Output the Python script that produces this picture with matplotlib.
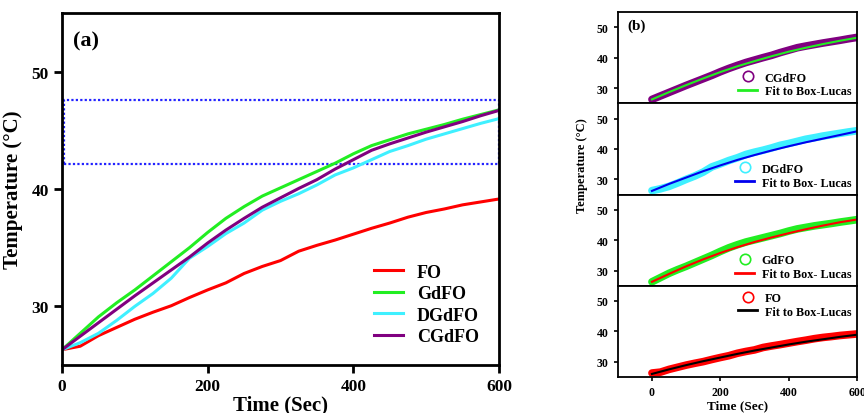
import numpy as np
import matplotlib
matplotlib.use("Agg")
import matplotlib.pyplot as plt
from matplotlib.lines import Line2D
from matplotlib.patches import Rectangle

plt.rcParams['font.family'] = ['Liberation Serif', 'DejaVu Serif']
plt.rcParams['font.weight'] = 'bold'

# ---- data ----
tijd = [0, 25, 50, 75, 100, 125, 150, 175, 200, 225, 250, 275, 300,
        325, 350, 375, 400, 425, 450, 475, 500, 525, 550, 575, 600]

fo = [26.3, 26.6, 27.5, 28.2, 28.9, 29.5, 30.05, 30.75, 31.4, 32.0, 32.8, 33.4, 33.9,
      34.7, 35.2, 35.65, 36.15, 36.65, 37.1, 37.6, 38.0, 38.3, 38.65, 38.9, 39.15]
gdfo = [26.3, 27.7, 29.1, 30.3, 31.4, 32.6, 33.8, 35.0, 36.3, 37.5, 38.5, 39.4, 40.1,
        40.8, 41.5, 42.2, 43.0, 43.7, 44.2, 44.7, 45.1, 45.5, 45.95, 46.35, 46.75]
dgdfo = [26.3, 26.9, 27.7, 28.8, 30.0, 31.1, 32.4, 34.1, 35.1, 36.2, 37.1, 38.2, 38.95,
         39.6, 40.35, 41.2, 41.8, 42.5, 43.2, 43.7, 44.25, 44.7, 45.15, 45.6, 46.0]
cgdfo = [26.3, 27.45, 28.6, 29.75, 30.9, 32.0, 33.1, 34.2, 35.4, 36.5, 37.5, 38.45, 39.25,
         40.05, 40.8, 41.7, 42.5, 43.3, 43.85, 44.35, 44.85, 45.3, 45.75, 46.25, 46.7]

# Box-Lucas fit curves (panel b)
tijd_fit = [0, 50, 100, 150, 200, 250, 300, 350, 400, 450, 500, 550, 600]
fit_fo = [26.0, 27.5, 28.9, 30.2, 31.4, 32.6, 33.7, 34.7, 35.7, 36.6, 37.4, 38.2, 38.9]
fit_gdfo = [26.3, 28.9, 31.4, 33.7, 35.8, 37.7, 39.4, 40.9, 42.3, 43.6, 44.8, 45.9, 46.8]
fit_dgdfo = [26.2, 28.5, 30.6, 32.7, 34.6, 36.4, 38.0, 39.5, 40.9, 42.2, 43.4, 44.6, 45.8]
fit_cgdfo = [26.3, 28.7, 31.0, 33.2, 35.3, 37.2, 38.9, 40.5, 42.0, 43.3, 44.5, 45.6, 46.6]

namen = ["FO", "GdFO", "DGdFO", "CGdFO"]
kleuren = ["#ff0000", "#22ee22", "#3ff0ff", "#800080"]

fig = plt.figure(figsize=(8.64, 4.14), dpi=100)

# ---- panel (a) ----
ax = fig.add_axes([0.0718, 0.116, 0.5057, 0.850])
reeksen = [fo, gdfo, dgdfo, cgdfo]
for naam, kleur, y in zip(namen, kleuren, reeksen):
    ax.plot(tijd, y, color=kleur, lw=2.2, label=naam)

# dotted box marking the 42-47.5 degC band
box = Rectangle((3, 42.1), 597, 5.5, fill=False, edgecolor="#2222ff",
                linestyle=(0, (1, 1)), lw=1.6, zorder=1)
ax.add_patch(box)

ax.set_xlim(0, 600)
ax.set_ylim(25, 55)
ax.set_xticks([0, 200, 400, 600])
ax.set_yticks([30, 40, 50])
ax.tick_params(direction='out', length=6, width=2, labelsize=12.5)
plt.setp(ax.get_xticklabels() + ax.get_yticklabels(), fontweight='bold')
for s in ax.spines.values():
    s.set_linewidth(2)
ax.set_xlabel("Time (Sec)", fontsize=15, fontweight='bold', labelpad=0)
ax.set_ylabel("Temperature (°C)", fontsize=15, fontweight='bold', labelpad=6)
ax.text(0.025, 0.95, "(a)", transform=ax.transAxes, fontsize=16,
        fontweight='bold', va='top')
leg = ax.legend(loc='lower right', frameon=False, fontsize=13, handlelength=1.6,
                handletextpad=0.8, labelspacing=0.25, borderaxespad=0.7)

# ---- panel (b) ----
b_kleur = ["#800080", "#3ff0ff", "#22ee22", "#ff0000"]
b_fitkleur = ["#22ee22", "#0000ee", "#ff0000", "#000000"]
b_naam = ["CGdFO", "DGdFO", "GdFO", "FO"]
b_data = [cgdfo, dgdfo, gdfo, fo]
b_fit = [fit_cgdfo, fit_dgdfo, fit_gdfo, fit_fo]
b_fitlabel = ["Fit to Box-Lucas", "Fit to Box- Lucas", "Fit to Box- Lucas", "Fit to Box-Lucas"]

h = 0.2203
onder = 0.087
for i in range(4):
    bx = fig.add_axes([0.715, onder + (3 - i) * h, 0.277, h])
    bx.plot(tijd, b_data[i], color=b_kleur[i], lw=5.5, solid_capstyle='round')
    bx.plot(tijd_fit, b_fit[i], color=b_fitkleur[i], lw=1.5)
    bx.set_xlim(-100, 600)
    bx.set_ylim(25, 55)
    bx.set_yticks([30, 40, 50])
    bx.set_xticks([0, 200, 400, 600])
    bx.tick_params(direction='out', length=3, width=1.2, labelsize=8.5)
    plt.setp(bx.get_xticklabels() + bx.get_yticklabels(), fontweight='bold')
    if i < 3:
        bx.tick_params(axis='x', bottom=False, labelbottom=False)
    for s in bx.spines.values():
        s.set_linewidth(1.3)
    handles = [Line2D([], [], marker='o', linestyle='none', mfc='none',
                      mec=b_kleur[i], ms=7.5, mew=1.2),
               Line2D([], [], color=b_fitkleur[i], lw=2)]
    loc = 'upper right' if i == 3 else 'lower right'
    bx.legend(handles, [b_naam[i], b_fitlabel[i]], loc=loc, frameon=False,
              fontsize=8.7, handlelength=1.6, handletextpad=0.6,
              labelspacing=0.15, borderaxespad=0.1)
    if i == 0:
        bx.text(0.04, 0.93, "(b)", transform=bx.transAxes, fontsize=11,
                fontweight='bold', va='top')
    if i == 3:
        bx.set_xlabel("Time (Sec)", fontsize=9.5, fontweight='bold', labelpad=1)

fig.text(0.674, 0.60, "Temperature (°C)", rotation=90, fontsize=9,
         fontweight='bold', ha='center', va='center')

fig.savefig("out.png", dpi=100)
